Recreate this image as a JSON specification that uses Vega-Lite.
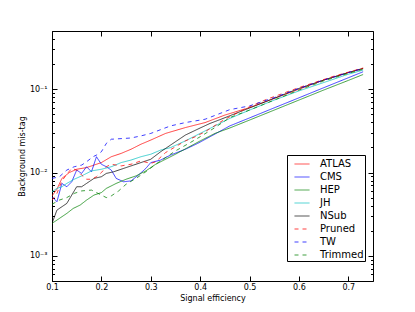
{
 "$schema": "https://vega.github.io/schema/vega-lite/v6.json",
 "width": 321, "height": 250,
 "autosize": {"type": "none"},
 "padding": {"left": 52, "top": 31, "right": 42, "bottom": 31},
 "background": "white",
 "config": {
  "font": "DejaVu Sans",
  "view": {"stroke": "black", "strokeWidth": 1},
  "axis": {"grid": false, "domain": false, "tickColor": "black", "tickSize": -5, "labelColor": "black", "labelFontSize": 8, "titleFontSize": 8, "titleFontWeight": "normal", "titleColor": "black", "labelFont": "DejaVu Sans", "titleFont": "DejaVu Sans", "labelFlush": false},
  "legend": {"title": null, "orient": "none", "legendX": 235, "legendY": 124, "strokeColor": "black", "fillColor": "white", "padding": 1, "symbolOffset": 6, "symbolType": "stroke", "symbolSize": 225, "symbolStrokeWidth": 1, "labelFontSize": 10, "labelFont": "DejaVu Sans", "labelColor": "black", "labelOffset": 10, "rowPadding": 0, "cornerRadius": 0}
 },
 "data": {"values": [
  {"t":"ATLAS","x":0.1,"y":0.00525},{"t":"ATLAS","x":0.11,"y":0.00631},{"t":"ATLAS","x":0.12,"y":0.00851},{"t":"ATLAS","x":0.135,"y":0.01},{"t":"ATLAS","x":0.15,"y":0.01096},{"t":"ATLAS","x":0.17,"y":0.01148},{"t":"ATLAS","x":0.2,"y":0.01318},{"t":"ATLAS","x":0.22,"y":0.01549},{"t":"ATLAS","x":0.24,"y":0.01698},{"t":"ATLAS","x":0.26,"y":0.01905},{"t":"ATLAS","x":0.28,"y":0.02188},{"t":"ATLAS","x":0.3,"y":0.02455},{"t":"ATLAS","x":0.33,"y":0.02951},{"t":"ATLAS","x":0.37,"y":0.03467},{"t":"ATLAS","x":0.41,"y":0.03981},{"t":"ATLAS","x":0.45,"y":0.04898},{"t":"ATLAS","x":0.5,"y":0.06026},{"t":"ATLAS","x":0.55,"y":0.07762},{"t":"ATLAS","x":0.6,"y":0.1},{"t":"ATLAS","x":0.65,"y":0.1288},{"t":"ATLAS","x":0.7,"y":0.1585},{"t":"ATLAS","x":0.73,"y":0.1778},
  {"t":"CMS","x":0.1,"y":0.00513},{"t":"CMS","x":0.11,"y":0.00447},{"t":"CMS","x":0.12,"y":0.00741},{"t":"CMS","x":0.13,"y":0.00676},{"t":"CMS","x":0.14,"y":0.00776},{"t":"CMS","x":0.15,"y":0.01072},{"t":"CMS","x":0.16,"y":0.00977},{"t":"CMS","x":0.17,"y":0.01175},{"t":"CMS","x":0.18,"y":0.01023},{"t":"CMS","x":0.19,"y":0.01549},{"t":"CMS","x":0.2,"y":0.01259},{"t":"CMS","x":0.21,"y":0.01175},{"t":"CMS","x":0.22,"y":0.01072},{"t":"CMS","x":0.23,"y":0.00851},{"t":"CMS","x":0.245,"y":0.00776},{"t":"CMS","x":0.26,"y":0.00794},{"t":"CMS","x":0.275,"y":0.00933},{"t":"CMS","x":0.29,"y":0.01122},{"t":"CMS","x":0.3,"y":0.01318},{"t":"CMS","x":0.32,"y":0.01413},{"t":"CMS","x":0.34,"y":0.01622},{"t":"CMS","x":0.37,"y":0.01905},{"t":"CMS","x":0.395,"y":0.02239},{"t":"CMS","x":0.42,"y":0.02692},{"t":"CMS","x":0.46,"y":0.03631},{"t":"CMS","x":0.5,"y":0.04529},{"t":"CMS","x":0.55,"y":0.05984},{"t":"CMS","x":0.6,"y":0.07889},{"t":"CMS","x":0.65,"y":0.1042},{"t":"CMS","x":0.7,"y":0.1374},{"t":"CMS","x":0.73,"y":0.1622},
  {"t":"HEP","x":0.1,"y":0.002455},{"t":"HEP","x":0.115,"y":0.002818},{"t":"HEP","x":0.13,"y":0.003236},{"t":"HEP","x":0.143,"y":0.003715},{"t":"HEP","x":0.157,"y":0.004074},{"t":"HEP","x":0.17,"y":0.004677},{"t":"HEP","x":0.185,"y":0.00537},{"t":"HEP","x":0.2,"y":0.005754},{"t":"HEP","x":0.21,"y":0.006457},{"t":"HEP","x":0.23,"y":0.007413},{"t":"HEP","x":0.25,"y":0.008318},{"t":"HEP","x":0.27,"y":0.00912},{"t":"HEP","x":0.29,"y":0.01047},{"t":"HEP","x":0.31,"y":0.01259},{"t":"HEP","x":0.35,"y":0.0166},{"t":"HEP","x":0.4,"y":0.02399},{"t":"HEP","x":0.43,"y":0.02951},{"t":"HEP","x":0.46,"y":0.03428},{"t":"HEP","x":0.5,"y":0.04266},{"t":"HEP","x":0.55,"y":0.05623},{"t":"HEP","x":0.6,"y":0.07413},{"t":"HEP","x":0.65,"y":0.09772},{"t":"HEP","x":0.7,"y":0.1276},{"t":"HEP","x":0.73,"y":0.1503},
  {"t":"JH","x":0.1,"y":0.005888},{"t":"JH","x":0.11,"y":0.006457},{"t":"JH","x":0.12,"y":0.006761},{"t":"JH","x":0.13,"y":0.007413},{"t":"JH","x":0.145,"y":0.008318},{"t":"JH","x":0.16,"y":0.00912},{"t":"JH","x":0.18,"y":0.01047},{"t":"JH","x":0.2,"y":0.01096},{"t":"JH","x":0.22,"y":0.01175},{"t":"JH","x":0.24,"y":0.01318},{"t":"JH","x":0.26,"y":0.01413},{"t":"JH","x":0.28,"y":0.01549},{"t":"JH","x":0.3,"y":0.0166},{"t":"JH","x":0.32,"y":0.01862},{"t":"JH","x":0.34,"y":0.01995},{"t":"JH","x":0.37,"y":0.02399},{"t":"JH","x":0.4,"y":0.02951},{"t":"JH","x":0.43,"y":0.03631},{"t":"JH","x":0.46,"y":0.04467},{"t":"JH","x":0.5,"y":0.05623},{"t":"JH","x":0.55,"y":0.07413},{"t":"JH","x":0.6,"y":0.0955},{"t":"JH","x":0.65,"y":0.1202},{"t":"JH","x":0.7,"y":0.1514},{"t":"JH","x":0.73,"y":0.1698},
  {"t":"NSub","x":0.1,"y":0.002455},{"t":"NSub","x":0.11,"y":0.003548},{"t":"NSub","x":0.12,"y":0.00389},{"t":"NSub","x":0.13,"y":0.004266},{"t":"NSub","x":0.14,"y":0.00537},{"t":"NSub","x":0.15,"y":0.006761},{"t":"NSub","x":0.16,"y":0.006761},{"t":"NSub","x":0.17,"y":0.007413},{"t":"NSub","x":0.185,"y":0.008511},{"t":"NSub","x":0.2,"y":0.008913},{"t":"NSub","x":0.21,"y":0.009772},{"t":"NSub","x":0.225,"y":0.01023},{"t":"NSub","x":0.245,"y":0.01122},{"t":"NSub","x":0.265,"y":0.0123},{"t":"NSub","x":0.28,"y":0.01318},{"t":"NSub","x":0.3,"y":0.01445},{"t":"NSub","x":0.32,"y":0.01778},{"t":"NSub","x":0.34,"y":0.02138},{"t":"NSub","x":0.37,"y":0.02818},{"t":"NSub","x":0.4,"y":0.03428},{"t":"NSub","x":0.42,"y":0.0389},{"t":"NSub","x":0.44,"y":0.04315},{"t":"NSub","x":0.5,"y":0.05957},{"t":"NSub","x":0.56,"y":0.08222},{"t":"NSub","x":0.6,"y":0.1023},{"t":"NSub","x":0.65,"y":0.1288},{"t":"NSub","x":0.7,"y":0.1585},{"t":"NSub","x":0.73,"y":0.1778},
  {"t":"Pruned","x":0.1,"y":0.004677},{"t":"Pruned","x":0.11,"y":0.005623},{"t":"Pruned","x":0.12,"y":0.007943},{"t":"Pruned","x":0.13,"y":0.00955},{"t":"Pruned","x":0.14,"y":0.01122},{"t":"Pruned","x":0.15,"y":0.01072},{"t":"Pruned","x":0.16,"y":0.009333},{"t":"Pruned","x":0.17,"y":0.008318},{"t":"Pruned","x":0.18,"y":0.008318},{"t":"Pruned","x":0.19,"y":0.008913},{"t":"Pruned","x":0.2,"y":0.01},{"t":"Pruned","x":0.21,"y":0.01175},{"t":"Pruned","x":0.22,"y":0.01259},{"t":"Pruned","x":0.24,"y":0.01202},{"t":"Pruned","x":0.26,"y":0.01259},{"t":"Pruned","x":0.28,"y":0.0138},{"t":"Pruned","x":0.3,"y":0.01288},{"t":"Pruned","x":0.31,"y":0.01349},{"t":"Pruned","x":0.33,"y":0.01738},{"t":"Pruned","x":0.35,"y":0.02042},{"t":"Pruned","x":0.37,"y":0.02399},{"t":"Pruned","x":0.39,"y":0.02692},{"t":"Pruned","x":0.41,"y":0.0309},{"t":"Pruned","x":0.45,"y":0.04365},{"t":"Pruned","x":0.5,"y":0.06166},{"t":"Pruned","x":0.535,"y":0.07586},{"t":"Pruned","x":0.6,"y":0.1047},{"t":"Pruned","x":0.67,"y":0.1429},{"t":"Pruned","x":0.73,"y":0.1799},
  {"t":"TW","x":0.1,"y":0.008511},{"t":"TW","x":0.115,"y":0.008913},{"t":"TW","x":0.13,"y":0.01072},{"t":"TW","x":0.145,"y":0.01175},{"t":"TW","x":0.16,"y":0.0123},{"t":"TW","x":0.17,"y":0.01349},{"t":"TW","x":0.183,"y":0.01549},{"t":"TW","x":0.19,"y":0.01622},{"t":"TW","x":0.2,"y":0.01778},{"t":"TW","x":0.21,"y":0.02239},{"t":"TW","x":0.22,"y":0.02512},{"t":"TW","x":0.26,"y":0.026},{"t":"TW","x":0.28,"y":0.02754},{"t":"TW","x":0.3,"y":0.02951},{"t":"TW","x":0.34,"y":0.03631},{"t":"TW","x":0.37,"y":0.03981},{"t":"TW","x":0.41,"y":0.04365},{"t":"TW","x":0.46,"y":0.05689},{"t":"TW","x":0.5,"y":0.0631},{"t":"TW","x":0.55,"y":0.07943},{"t":"TW","x":0.6,"y":0.1023},{"t":"TW","x":0.65,"y":0.1288},{"t":"TW","x":0.7,"y":0.1585},{"t":"TW","x":0.73,"y":0.1778},
  {"t":"Trimmed","x":0.1,"y":0.004169},{"t":"Trimmed","x":0.115,"y":0.004677},{"t":"Trimmed","x":0.13,"y":0.005012},{"t":"Trimmed","x":0.145,"y":0.005623},{"t":"Trimmed","x":0.16,"y":0.006026},{"t":"Trimmed","x":0.18,"y":0.006166},{"t":"Trimmed","x":0.2,"y":0.00537},{"t":"Trimmed","x":0.21,"y":0.005012},{"t":"Trimmed","x":0.22,"y":0.005248},{"t":"Trimmed","x":0.235,"y":0.006026},{"t":"Trimmed","x":0.25,"y":0.007244},{"t":"Trimmed","x":0.27,"y":0.008511},{"t":"Trimmed","x":0.29,"y":0.01023},{"t":"Trimmed","x":0.31,"y":0.01259},{"t":"Trimmed","x":0.33,"y":0.01514},{"t":"Trimmed","x":0.35,"y":0.0182},{"t":"Trimmed","x":0.38,"y":0.02291},{"t":"Trimmed","x":0.4,"y":0.02692},{"t":"Trimmed","x":0.43,"y":0.03467},{"t":"Trimmed","x":0.46,"y":0.04571},{"t":"Trimmed","x":0.5,"y":0.05623},{"t":"Trimmed","x":0.55,"y":0.07413},{"t":"Trimmed","x":0.6,"y":0.09772},{"t":"Trimmed","x":0.65,"y":0.1259},{"t":"Trimmed","x":0.7,"y":0.1549},{"t":"Trimmed","x":0.73,"y":0.1738}
 ]},
 "layer": [
  {
   "mark": {"type": "line", "strokeWidth": 1, "opacity": 0.75, "clip": true},
   "encoding": {
    "x": {"field": "x", "type": "quantitative", "scale": {"domain": [0.1, 0.75], "nice": false, "zero": false},
          "axis": {"orient": "bottom", "values": [0.1,0.2,0.3,0.4,0.5,0.6,0.7], "format": ".1f", "labelPadding": 7, "title": "Signal efficiency", "titlePadding": 3}},
    "y": {"field": "y", "type": "quantitative", "scale": {"type": "log", "domain": [0.0005, 0.5], "nice": false},
          "axis": {"orient": "left", "values": [0.001, 0.01, 0.1], "labelExpr": "datum.value < 0.005 ? '10⁻³' : datum.value < 0.05 ? '10⁻²' : '10⁻¹'", "labelPadding": 10, "title": "Background mis-tag", "titlePadding": 3}},
    "color": {"field": "t", "type": "nominal",
     "scale": {"domain": ["ATLAS","CMS","HEP","JH","NSub","Pruned","TW","Trimmed"], "range": ["#ff0000","#0000ff","#008000","#00bfbf","#000000","#ff0000","#0000ff","#008000"]}},
    "strokeDash": {"field": "t", "type": "nominal",
     "scale": {"domain": ["ATLAS","CMS","HEP","JH","NSub","Pruned","TW","Trimmed"], "range": [[1,0],[1,0],[1,0],[1,0],[1,0],[4,4],[4,4],[4,4]]}}
   }
  },
  {
   "mark": {"type": "line", "opacity": 0},
   "encoding": {
    "x": {"field": "x", "type": "quantitative", "axis": {"orient": "top", "values": [0.1,0.2,0.3,0.4,0.5,0.6,0.7], "labels": false, "title": null}},
    "y": {"field": "y", "type": "quantitative", "axis": {"orient": "right", "values": [0.001, 0.01, 0.1], "labels": false, "title": null}},
    "detail": {"field": "t"}
   }
  },
  {
   "mark": {"type": "line", "opacity": 0},
   "encoding": {
    "x": {"field": "x", "type": "quantitative", "axis": null},
    "y": {"field": "y", "type": "quantitative", "axis": {"orient": "left", "values": [0.0005,0.0006,0.0007,0.0008,0.0009,0.002,0.003,0.004,0.005,0.006,0.007,0.008,0.009,0.02,0.03,0.04,0.05,0.06,0.07,0.08,0.09,0.2,0.3,0.4,0.5], "labels": false, "title": null, "tickSize": -2.5}},
    "detail": {"field": "t"}
   }
  },
  {
   "mark": {"type": "line", "opacity": 0},
   "encoding": {
    "x": {"field": "x", "type": "quantitative", "axis": null},
    "y": {"field": "y", "type": "quantitative", "axis": {"orient": "right", "values": [0.0005,0.0006,0.0007,0.0008,0.0009,0.002,0.003,0.004,0.005,0.006,0.007,0.008,0.009,0.02,0.03,0.04,0.05,0.06,0.07,0.08,0.09,0.2,0.3,0.4,0.5], "labels": false, "title": null, "tickSize": -2.5}},
    "detail": {"field": "t"}
   }
  }
 ],
 "resolve": {"axis": {"x": "independent", "y": "independent"}}
}
